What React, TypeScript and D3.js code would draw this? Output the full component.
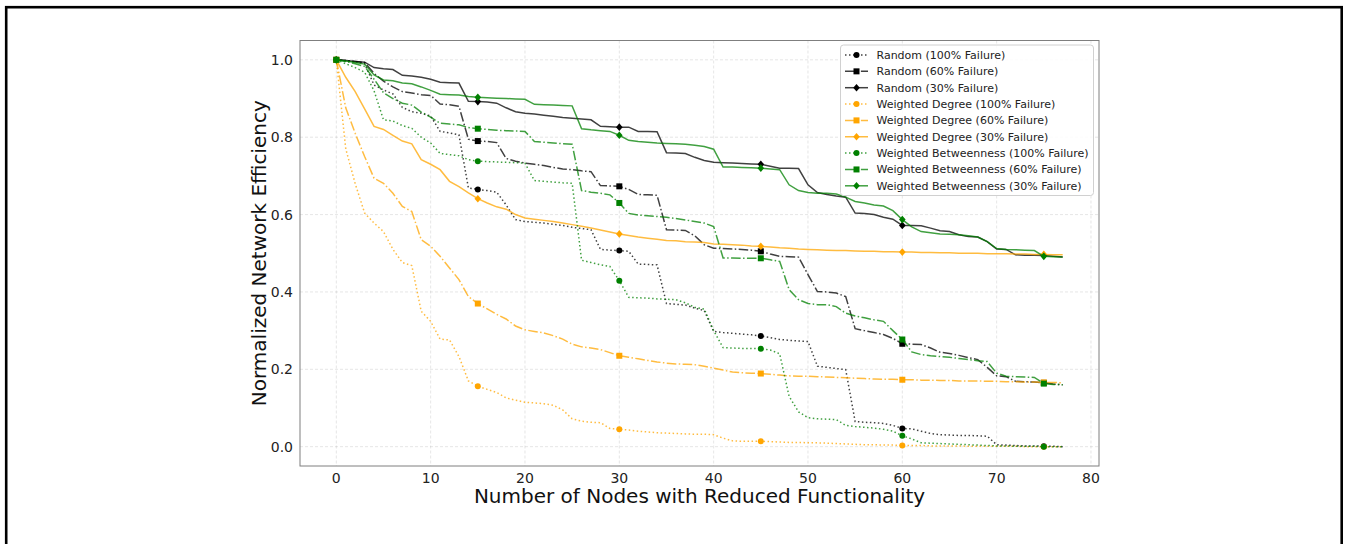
import React, { useEffect, useRef } from 'react';
import * as d3 from 'd3';

// nodes removed (x axis)
const nodeCounts = Array.from({ length: 78 }, (_, i) => i);

const random100 = [
  1.000, 0.998, 0.995, 0.990, 0.935, 0.922, 0.912, 0.877, 0.866, 0.862,
  0.855, 0.815, 0.811, 0.806, 0.669, 0.665, 0.662, 0.658, 0.625, 0.587,
  0.582, 0.580, 0.578, 0.575, 0.572, 0.567, 0.564, 0.561, 0.510, 0.508,
  0.507, 0.505, 0.472, 0.471, 0.470, 0.370, 0.368, 0.366, 0.358, 0.352,
  0.298, 0.295, 0.293, 0.291, 0.289, 0.286, 0.282, 0.277, 0.275, 0.273,
  0.272, 0.208, 0.205, 0.202, 0.199, 0.065, 0.063, 0.062, 0.060, 0.055,
  0.047, 0.046, 0.040, 0.034, 0.031, 0.030, 0.029, 0.029, 0.028, 0.027,
  0.005, 0.004, 0.003, 0.002, 0.002, 0.001, 0.001, 0.000,
];
const random60 = [
  1.000, 0.998, 0.996, 0.993, 0.965, 0.945, 0.930, 0.918, 0.914, 0.910,
  0.908, 0.886, 0.884, 0.880, 0.795, 0.790, 0.789, 0.786, 0.745, 0.738,
  0.733, 0.730, 0.727, 0.722, 0.718, 0.716, 0.713, 0.711, 0.675, 0.674,
  0.673, 0.665, 0.652, 0.651, 0.650, 0.561, 0.560, 0.559, 0.545, 0.522,
  0.513, 0.512, 0.511, 0.510, 0.508, 0.505, 0.498, 0.492, 0.491, 0.490,
  0.445, 0.401, 0.400, 0.397, 0.388, 0.305, 0.300, 0.295, 0.290, 0.280,
  0.266, 0.265, 0.264, 0.255, 0.244, 0.241, 0.236, 0.230, 0.225, 0.205,
  0.183, 0.181, 0.169, 0.168, 0.167, 0.165, 0.162, 0.160,
];
const random30 = [
  1.000, 0.998, 0.996, 0.994, 0.980, 0.977, 0.975, 0.960, 0.958, 0.955,
  0.950, 0.942, 0.941, 0.940, 0.893, 0.892, 0.891, 0.888, 0.876, 0.866,
  0.862, 0.860, 0.857, 0.854, 0.851, 0.849, 0.847, 0.845, 0.828, 0.827,
  0.826, 0.826, 0.815, 0.815, 0.814, 0.760, 0.759, 0.758, 0.748, 0.740,
  0.735, 0.734, 0.733, 0.732, 0.731, 0.730, 0.725, 0.720, 0.720, 0.719,
  0.677, 0.657, 0.652, 0.648, 0.645, 0.604, 0.603, 0.600, 0.593, 0.588,
  0.572, 0.572, 0.571, 0.565, 0.558, 0.556, 0.548, 0.543, 0.542, 0.530,
  0.511, 0.510, 0.496, 0.495, 0.495, 0.494, 0.492, 0.490,
];
const degree100 = [
  1.000, 0.770, 0.680, 0.604, 0.578, 0.556, 0.510, 0.476, 0.468, 0.350,
  0.324, 0.278, 0.276, 0.233, 0.170, 0.156, 0.148, 0.140, 0.126, 0.120,
  0.115, 0.113, 0.111, 0.107, 0.095, 0.072, 0.066, 0.063, 0.062, 0.047,
  0.045, 0.043, 0.040, 0.038, 0.036, 0.035, 0.034, 0.033, 0.032, 0.032,
  0.031, 0.022, 0.015, 0.014, 0.014, 0.014, 0.013, 0.012, 0.011, 0.011,
  0.010, 0.010, 0.009, 0.008, 0.007, 0.006, 0.005, 0.005, 0.004, 0.004,
  0.003, 0.003, 0.003, 0.002, 0.002, 0.002, 0.002, 0.001, 0.001, 0.001,
  0.001, 0.001, 0.001, 0.000, 0.000, 0.000, 0.000, 0.000,
];
const degree60 = [
  1.000, 0.876, 0.810, 0.750, 0.694, 0.681, 0.655, 0.621, 0.608, 0.535,
  0.518, 0.492, 0.462, 0.432, 0.388, 0.370, 0.356, 0.342, 0.330, 0.312,
  0.302, 0.298, 0.294, 0.287, 0.278, 0.265, 0.258, 0.255, 0.251, 0.243,
  0.235, 0.231, 0.227, 0.223, 0.219, 0.216, 0.214, 0.213, 0.212, 0.208,
  0.203, 0.198, 0.193, 0.191, 0.190, 0.189, 0.187, 0.185, 0.183, 0.182,
  0.182, 0.181, 0.180, 0.179, 0.178, 0.177, 0.176, 0.175, 0.174, 0.174,
  0.173, 0.173, 0.172, 0.172, 0.171, 0.171, 0.170, 0.170, 0.170, 0.169,
  0.169, 0.168, 0.168, 0.167, 0.167, 0.166, 0.166, 0.165,
];
const degree30 = [
  1.000, 0.955, 0.918, 0.873, 0.828, 0.820, 0.805, 0.790, 0.783, 0.742,
  0.730, 0.716, 0.686, 0.672, 0.656, 0.641, 0.630, 0.620, 0.614, 0.600,
  0.591, 0.588, 0.585, 0.582, 0.578, 0.574, 0.570, 0.565, 0.560, 0.555,
  0.550, 0.546, 0.542, 0.539, 0.536, 0.533, 0.532, 0.530, 0.529, 0.528,
  0.524, 0.523, 0.522, 0.521, 0.519, 0.518, 0.516, 0.514, 0.513, 0.511,
  0.510, 0.509, 0.508, 0.507, 0.507, 0.506, 0.505, 0.505, 0.504, 0.504,
  0.503, 0.503, 0.502, 0.502, 0.501, 0.501, 0.500, 0.500, 0.500, 0.499,
  0.499, 0.499, 0.498, 0.498, 0.497, 0.497, 0.496, 0.496,
];
const betweenness100 = [
  1.000, 0.990, 0.980, 0.968, 0.920, 0.845, 0.842, 0.830, 0.823, 0.800,
  0.785, 0.758, 0.755, 0.752, 0.742, 0.738, 0.737, 0.736, 0.735, 0.734,
  0.733, 0.688, 0.686, 0.684, 0.682, 0.681, 0.482, 0.476, 0.470, 0.466,
  0.429, 0.386, 0.385, 0.384, 0.382, 0.381, 0.380, 0.372, 0.360, 0.356,
  0.300, 0.256, 0.255, 0.254, 0.254, 0.253, 0.250, 0.240, 0.130, 0.090,
  0.075, 0.072, 0.071, 0.070, 0.055, 0.052, 0.050, 0.048, 0.045, 0.040,
  0.028, 0.020, 0.010, 0.009, 0.008, 0.007, 0.006, 0.005, 0.004, 0.003,
  0.002, 0.002, 0.001, 0.001, 0.001, 0.000, 0.000, 0.000,
];
const betweenness60 = [
  1.000, 0.996, 0.990, 0.983, 0.950, 0.915, 0.900, 0.888, 0.883, 0.865,
  0.852, 0.836, 0.834, 0.832, 0.825, 0.822, 0.820, 0.818, 0.817, 0.816,
  0.815, 0.789, 0.787, 0.785, 0.783, 0.782, 0.662, 0.658, 0.655, 0.651,
  0.630, 0.603, 0.599, 0.597, 0.595, 0.593, 0.590, 0.586, 0.582, 0.578,
  0.569, 0.488, 0.488, 0.487, 0.487, 0.487, 0.483, 0.479, 0.406, 0.380,
  0.370, 0.367, 0.367, 0.362, 0.345, 0.338, 0.333, 0.328, 0.324, 0.300,
  0.277, 0.245, 0.238, 0.235, 0.233, 0.231, 0.228, 0.225, 0.222, 0.220,
  0.190, 0.182, 0.181, 0.180, 0.179, 0.163, 0.161, 0.160,
];
const betweenness30 = [
  1.000, 0.997, 0.993, 0.989, 0.961, 0.948, 0.946, 0.940, 0.938, 0.930,
  0.921, 0.911, 0.910, 0.909, 0.905, 0.903, 0.902, 0.901, 0.900, 0.899,
  0.898, 0.885, 0.884, 0.883, 0.882, 0.881, 0.822, 0.819, 0.817, 0.815,
  0.805, 0.792, 0.789, 0.787, 0.785, 0.784, 0.783, 0.782, 0.779, 0.776,
  0.769, 0.723, 0.723, 0.722, 0.721, 0.720, 0.718, 0.716, 0.677, 0.662,
  0.657, 0.655, 0.655, 0.653, 0.645, 0.634, 0.630, 0.625, 0.622, 0.610,
  0.587, 0.568, 0.556, 0.553, 0.550, 0.549, 0.548, 0.545, 0.542, 0.530,
  0.512, 0.510, 0.509, 0.508, 0.507, 0.492, 0.491, 0.490,
];

const xTicks = [0, 10, 20, 30, 40, 50, 60, 70, 80];
const yTicks = [0.0, 0.2, 0.4, 0.6, 0.8, 1.0];

const series = [
  { label: 'Random (100% Failure)', values: random100, color: 'black', dash: 'dot', marker: 'o' },
  { label: 'Random (60% Failure)', values: random60, color: 'black', dash: 'dashdot', marker: 's' },
  { label: 'Random (30% Failure)', values: random30, color: 'black', dash: 'solid', marker: 'D' },
  { label: 'Weighted Degree (100% Failure)', values: degree100, color: 'orange', dash: 'dot', marker: 'o' },
  { label: 'Weighted Degree (60% Failure)', values: degree60, color: 'orange', dash: 'dashdot', marker: 's' },
  { label: 'Weighted Degree (30% Failure)', values: degree30, color: 'orange', dash: 'solid', marker: 'D' },
  { label: 'Weighted Betweenness (100% Failure)', values: betweenness100, color: 'green', dash: 'dot', marker: 'o' },
  { label: 'Weighted Betweenness (60% Failure)', values: betweenness60, color: 'green', dash: 'dashdot', marker: 's' },
  { label: 'Weighted Betweenness (30% Failure)', values: betweenness30, color: 'green', dash: 'solid', marker: 'D' },
];

const dashes: Record<string, string | null> = {
  dot: '1.5,2.5',
  dashdot: '9.6,2.4,1.5,2.4',
  solid: null,
};

const font = 'DejaVu Sans, sans-serif';

const drawMarker = (g: any, kind: string, x: number, y: number, color: string) => {
  if (kind === 'o') {
    g.append('circle').attr('cx', x).attr('cy', y).attr('r', 3).attr('fill', color);
  } else if (kind === 's') {
    g.append('rect').attr('x', x - 3).attr('y', y - 3).attr('width', 6).attr('height', 6).attr('fill', color);
  } else {
    g.append('path')
      .attr('d', `M${x},${y - 3.8}L${x + 3.3},${y}L${x},${y + 3.8}L${x - 3.3},${y}Z`)
      .attr('fill', color);
  }
};

const Chart = () => {
  const svgRef = useRef<SVGSVGElement>(null);

  useEffect(() => {
    const svg = d3.select(svgRef.current);
    svg.selectAll('*').remove();

    const margin = { left: 300, right: 1099, top: 40.5, bottom: 466 };

    const x = d3.scaleLinear().domain([-3.85, 80.85]).range([margin.left, margin.right]);
    const y = d3.scaleLinear().domain([-0.05, 1.05]).range([margin.bottom, margin.top]);

    // outer frame
    svg.append('rect')
      .attr('x', 6.2).attr('y', 7.2)
      .attr('width', 1335.5).attr('height', 560)
      .attr('fill', 'none').attr('stroke', 'black').attr('stroke-width', 2.6);

    // grid
    const grid = svg.append('g');
    xTicks.forEach(t => {
      grid.append('line')
        .attr('x1', x(t)).attr('x2', x(t)).attr('y1', margin.top).attr('y2', margin.bottom)
        .attr('stroke', '#b0b0b0').attr('stroke-opacity', 0.4).attr('stroke-width', 0.8)
        .attr('stroke-dasharray', '3,2');
    });
    yTicks.forEach(t => {
      grid.append('line')
        .attr('x1', margin.left).attr('x2', margin.right).attr('y1', y(t)).attr('y2', y(t))
        .attr('stroke', '#b0b0b0').attr('stroke-opacity', 0.4).attr('stroke-width', 0.8)
        .attr('stroke-dasharray', '3,2');
    });

    // lines
    const line = d3.line<number>()
      .x((d, i) => x(nodeCounts[i]))
      .y(d => y(d));

    series.forEach(s => {
      const g = svg.append('g');
      g.append('path')
        .attr('d', line(s.values))
        .attr('fill', 'none')
        .attr('stroke', s.color)
        .attr('stroke-opacity', 0.75)
        .attr('stroke-width', 1.5)
        .attr('stroke-dasharray', dashes[s.dash]);
      s.values.forEach((v, i) => {
        if (i % 15 === 0) drawMarker(g, s.marker, x(nodeCounts[i]), y(v), s.color);
      });
    });

    // spines
    svg.append('rect')
      .attr('x', margin.left).attr('y', margin.top)
      .attr('width', margin.right - margin.left).attr('height', margin.bottom - margin.top)
      .attr('fill', 'none').attr('stroke', '#7f7f7f').attr('stroke-width', 1);

    // tick labels
    xTicks.forEach(t => {
      svg.append('text')
        .attr('x', x(t)).attr('y', 483)
        .attr('text-anchor', 'middle')
        .attr('font-family', font).attr('font-size', 14).attr('fill', '#222')
        .text(t);
    });
    yTicks.forEach(t => {
      svg.append('text')
        .attr('x', 293).attr('y', y(t) + 5)
        .attr('text-anchor', 'end')
        .attr('font-family', font).attr('font-size', 14).attr('fill', '#222')
        .text(t.toFixed(1));
    });

    // axis labels
    svg.append('text')
      .attr('x', x(38.5)).attr('y', 503)
      .attr('text-anchor', 'middle')
      .attr('font-family', font).attr('font-size', 20).attr('fill', '#111')
      .text('Number of Nodes with Reduced Functionality');

    svg.append('text')
      .attr('transform', `translate(266,${(margin.top + margin.bottom) / 2}) rotate(-90)`)
      .attr('text-anchor', 'middle')
      .attr('font-family', font).attr('font-size', 20).attr('fill', '#111')
      .text('Normalized Network Efficiency');

    // legend
    const lg = svg.append('g');
    lg.append('rect')
      .attr('x', 840.5).attr('y', 45).attr('width', 253).attr('height', 150.5)
      .attr('rx', 3).attr('fill', 'white').attr('fill-opacity', 0.85)
      .attr('stroke', '#d0d0d0').attr('stroke-width', 1);
    series.forEach((s, i) => {
      const cy = 55 + i * 16.35;
      lg.append('line')
        .attr('x1', 845).attr('x2', 868).attr('y1', cy).attr('y2', cy)
        .attr('stroke', s.color).attr('stroke-opacity', 0.75).attr('stroke-width', 1.5)
        .attr('stroke-dasharray', dashes[s.dash]);
      drawMarker(lg, s.marker, 856.5, cy, s.color);
      lg.append('text')
        .attr('x', 876.5).attr('y', cy + 4)
        .attr('font-family', font).attr('font-size', 11).attr('fill', '#222')
        .text(s.label);
    });
  }, []);

  return (
    <svg
      ref={svgRef}
      width={1349}
      height={544}
      style={{ position: 'absolute', left: 0, top: 0, background: 'white' }}
    />
  );
};

const App = () => {
  return (
    <div>
      <Chart />
    </div>
  );
};

export default App;
